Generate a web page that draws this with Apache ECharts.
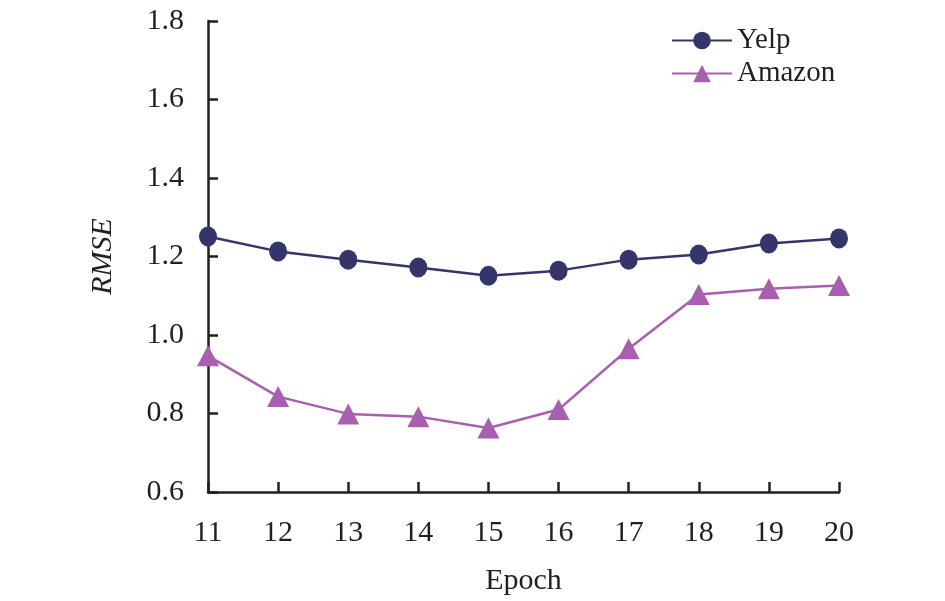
<!DOCTYPE html>
<html><head><meta charset="utf-8">
<script src="https://cdn.jsdelivr.net/npm/echarts@6/dist/echarts.min.js"></script>
<style>html,body{margin:0;padding:0;background:#fff}#c{width:945px;height:601px}</style>
</head><body><div id="c"></div>
<script>
const epochs = ['11','12','13','14','15','16','17','18','19','20'];
const yelp = [1.251, 1.213, 1.192, 1.172, 1.151, 1.164, 1.192, 1.205, 1.233, 1.246];
const amazon = [0.947, 0.843, 0.799, 0.792, 0.763, 0.810, 0.965, 1.103, 1.118, 1.126];
const yTicks = [0.6, 0.8, 1.0, 1.2, 1.4, 1.6, 1.8];

const font = 'Liberation Serif';
const axisColor = '#231f20';
const chart = echarts.init(document.getElementById('c'));
chart.setOption({
  animation: false,
  textStyle: {fontFamily: font},
  grid: {left: 208, right: 106, top: 21, bottom: 109},
  legend: {
    orient: 'vertical', left: 666, top: 21, itemWidth: 60, itemHeight: 22, itemGap: 4,
    textStyle: {fontFamily: font, fontSize: 29, color: '#231f20'},
    data: ['Yelp', 'Amazon']
  },
  xAxis: {
    type: 'category', data: epochs, boundaryGap: false,
    name: 'Epoch', nameLocation: 'middle', nameGap: 74,
    nameTextStyle: {fontFamily: font, fontSize: 30, color: '#231f20'},
    axisLine: {lineStyle: {color: axisColor, width: 2.5}},
    axisTick: {inside: true, length: 10, lineStyle: {color: axisColor, width: 2.5}},
    axisLabel: {fontFamily: font, fontSize: 30, color: '#231f20', margin: 26},
    splitLine: {show: false}
  },
  yAxis: {
    type: 'value', min: 0.6, max: 1.8, interval: 0.2,
    name: 'RMSE', nameLocation: 'middle', nameGap: 90, nameRotate: 90,
    nameTextStyle: {fontFamily: font, fontSize: 30, fontStyle: 'italic', color: '#231f20'},
    axisLine: {show: true, lineStyle: {color: axisColor, width: 2.5}},
    axisTick: {show: true, inside: true, length: 10, lineStyle: {color: axisColor, width: 2.5}},
    axisLabel: {fontFamily: font, fontSize: 30, color: '#231f20', margin: 24,
      formatter: v => { const t = yTicks.find(x => Math.abs(x - v) < 1e-6); return t !== undefined ? t.toFixed(1) : ''; }},
    splitLine: {show: false}
  },
  series: [
    {name: 'Yelp', type: 'line', data: yelp, symbol: 'circle', symbolSize: [18, 20],
     lineStyle: {color: '#33356b', width: 2.5}, itemStyle: {color: '#33356b'}},
    {name: 'Amazon', type: 'line', data: amazon, symbol: 'triangle', symbolSize: [22, 21],
     lineStyle: {color: '#a95fb0', width: 2.5}, itemStyle: {color: '#a95fb0'}}
  ]
});
</script></body></html>
